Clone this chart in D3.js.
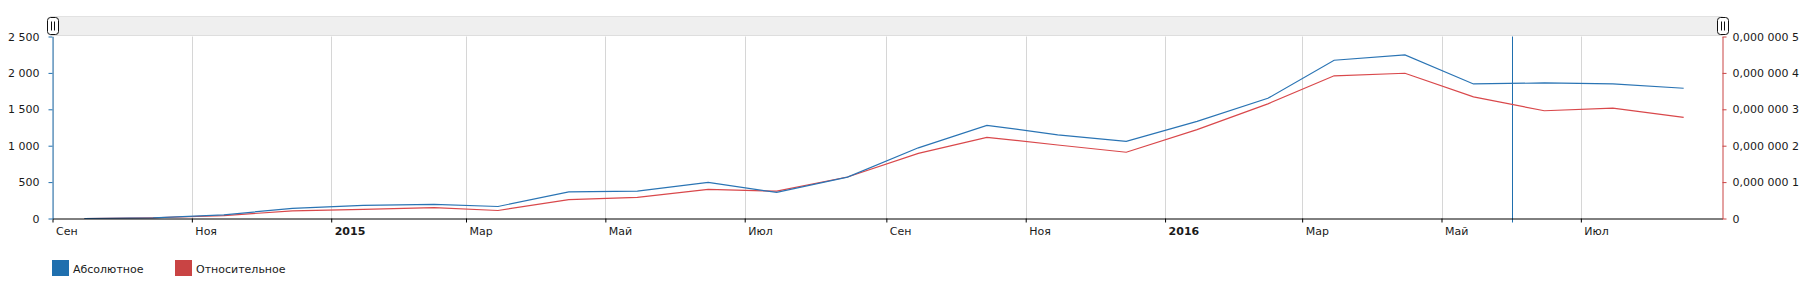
<!DOCTYPE html>
<html>
<head>
<meta charset="utf-8">
<script src="https://cdn.jsdelivr.net/npm/d3@7"></script>
<style>
  body { margin: 0; background: #fff; }
  text { font-family: "DejaVu Sans", Verdana, sans-serif; font-size: 11px; fill: #1a1a1a; }
</style>
</head>
<body>
<div id="graph"></div>
<script>
// months (data points sit mid-month)
const months = ['2014-09', '2014-10', '2014-11', '2014-12', '2015-01', '2015-02', '2015-03', '2015-04',
  '2015-05', '2015-06', '2015-07', '2015-08', '2015-09', '2015-10', '2015-11', '2015-12',
  '2016-01', '2016-02', '2016-03', '2016-04', '2016-05', '2016-06', '2016-07', '2016-08']
const absolute = [0, 8, 50, 140, 180, 193, 165, 366, 376, 495, 358, 568,
  971, 1280, 1150, 1059, 1334, 1651, 2174, 2247, 1848, 1862, 1848, 1789]
const relative = [0, 0.02e-7, 0.08e-7, 0.21e-7, 0.25e-7, 0.30e-7, 0.22e-7, 0.52e-7, 0.58e-7, 0.80e-7, 0.75e-7, 1.14e-7,
  1.79e-7, 2.23e-7, 2.02e-7, 1.82e-7, 2.44e-7, 3.15e-7, 3.92e-7, 3.99e-7, 3.34e-7, 2.96e-7, 3.03e-7, 2.78e-7]
const leftTicks = [0, 500, 1000, 1500, 2000, 2500]
const rightTicks = [0, 1e-7, 2e-7, 3e-7, 4e-7, 5e-7]
const monthNames = ['Янв', 'Фев', 'Мар', 'Апр', 'Май', 'Июн', 'Июл', 'Авг', 'Сен', 'Окт', 'Ноя', 'Дек']
const legendItems = [{ name: 'Абсолютное', color: '#1f6fae' }, { name: 'Относительное', color: '#c94444' }]
const domainStart = new Date(2014, 8, 1)
const domainEnd = new Date(2016, 8, 1)
const cursorDate = new Date(2016, 5, 1)

const width = 1807
const height = 281
const plot = { left: 52.5, right: 1722.5, top: 36.5, bottom: 218.5 }

const svg = d3.select('#graph').append('svg')
  .attr('width', width)
  .attr('height', height)

const parse = d3.timeParse('%Y-%m')
const dates = months.map(m => d3.timeDay.offset(parse(m), 14))

// Scales
const xScale = d3.scaleTime().domain([domainStart, domainEnd]).range([plot.left, plot.right])
const yLeft = d3.scaleLinear().domain([0, 2500]).range([plot.bottom, plot.top])
const yRight = d3.scaleLinear().domain([0, 5e-7]).range([plot.bottom, plot.top])

const ru = d3.formatLocale({ decimal: ',', thousands: ' ', grouping: [3], currency: ['', ''] })
const fmtLeft = ru.format(',d')
const fmtRight = (v) => {
  if (v === 0) return '0'
  const s = v.toFixed(7).split('.')
  return s[0] + ',' + s[1].replace(/(\d{3})(?=\d)/g, '$1 ')
}

// scrollbar band
svg.append('rect')
  .attr('x', 50).attr('y', 16).attr('width', plot.right - 50).attr('height', 20)
  .attr('fill', '#efefef')
svg.append('line')
  .attr('x1', 50).attr('x2', plot.right).attr('y1', 16.5).attr('y2', 16.5)
  .attr('stroke', '#e2e2e2')
svg.append('line')
  .attr('x1', 50).attr('x2', plot.right).attr('y1', 35.5).attr('y2', 35.5)
  .attr('stroke', '#dedede')

// x ticks every 2 months
const xTicks = d3.timeMonth.every(2).range(domainStart, domainEnd)

svg.append('g').selectAll('line').data(xTicks).join('line')
  .attr('x1', d => Math.round(xScale(d)) + 0.5)
  .attr('x2', d => Math.round(xScale(d)) + 0.5)
  .attr('y1', plot.top).attr('y2', plot.bottom)
  .attr('stroke', '#d6d6d6')

// cursor line
svg.append('line')
  .attr('x1', Math.round(xScale(cursorDate)) + 0.5)
  .attr('x2', Math.round(xScale(cursorDate)) + 0.5)
  .attr('y1', plot.top).attr('y2', plot.bottom + 4)
  .attr('stroke', '#1f6fae')

// series
const lineAbs = d3.line().x((d, i) => xScale(dates[i])).y(d => yLeft(d))
const lineRel = d3.line().x((d, i) => xScale(dates[i])).y(d => yRight(d))

svg.append('path').datum(relative)
  .attr('d', lineRel)
  .attr('fill', 'none')
  .attr('stroke', '#d9484b')
  .attr('stroke-width', 1.2)

svg.append('path').datum(absolute)
  .attr('d', lineAbs)
  .attr('fill', 'none')
  .attr('stroke', '#2a74b4')
  .attr('stroke-width', 1.2)

// bottom axis
const xAxis = d3.axisBottom(xScale).tickValues(xTicks).tickSize(4).tickSizeOuter(0)
  .tickFormat(d => d.getMonth() === 0 ? d.getFullYear() : monthNames[d.getMonth()])
const gx = svg.append('g').attr('transform', `translate(0,${plot.bottom})`).call(xAxis)
gx.select('.domain').attr('stroke', '#000')
gx.selectAll('.tick line').attr('stroke', '#000')
gx.selectAll('.tick text')
  .attr('text-anchor', 'start')
  .attr('x', 3)
  .attr('y', 9)
  .style('font-family', '"DejaVu Sans", Verdana, sans-serif')
  .style('font-size', '11px')
  .attr('fill', '#1a1a1a')
  .attr('font-weight', d => d.getMonth() === 0 ? 'bold' : 'normal')

// left axis
const gl = svg.append('g').attr('transform', `translate(${plot.left},0)`)
  .call(d3.axisLeft(yLeft).tickValues(leftTicks).tickFormat(fmtLeft).tickSize(4).tickSizeOuter(0))
gl.select('.domain').attr('stroke', '#1f6fae')
gl.selectAll('.tick line').attr('stroke', '#1f6fae')
gl.selectAll('.tick text').attr('x', -13)
  .style('font-family', '"DejaVu Sans", Verdana, sans-serif')
  .style('font-size', '11px').attr('fill', '#1a1a1a')

// right axis
const gr = svg.append('g').attr('transform', `translate(${plot.right},0)`)
  .call(d3.axisRight(yRight).tickValues(rightTicks).tickFormat(fmtRight).tickSize(4).tickSizeOuter(0))
gr.select('.domain').attr('stroke', '#c94444')
gr.selectAll('.tick line').attr('stroke', '#c94444')
gr.selectAll('.tick text').attr('x', 10)
  .style('font-family', '"DejaVu Sans", Verdana, sans-serif')
  .style('font-size', '11px').attr('fill', '#1a1a1a')

// scrollbar grips
const grips = [plot.left, plot.right]
const grip = svg.append('g').selectAll('g').data(grips).join('g')
  .attr('transform', d => `translate(${Math.round(d) - 5.5},17.5)`)
grip.append('rect')
  .attr('width', 11).attr('height', 17).attr('rx', 3)
  .attr('fill', '#fff').attr('stroke', '#111')
grip.append('line').attr('x1', 4).attr('x2', 4).attr('y1', 4).attr('y2', 13).attr('stroke', '#111')
grip.append('line').attr('x1', 7).attr('x2', 7).attr('y1', 4).attr('y2', 13).attr('stroke', '#111')

// legend
const legend = svg.append('g').selectAll('g').data(legendItems).join('g')
  .attr('transform', (d, i) => `translate(${52 + i * 123},260)`)
legend.append('rect').attr('width', 17).attr('height', 16).attr('fill', d => d.color)
legend.append('text').attr('x', 21).attr('y', 13).text(d => d.name)
</script>
</body>
</html>
